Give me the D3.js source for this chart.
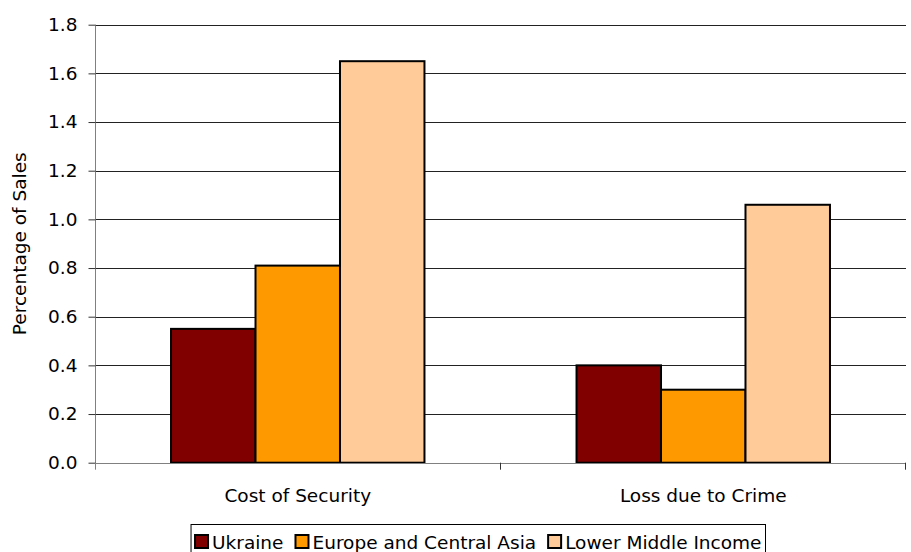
<!DOCTYPE html>
<html><head><meta charset="utf-8">
<script src="https://cdn.jsdelivr.net/npm/d3@7"></script>
<style>body{margin:0;background:#fff}svg{display:block}text{font-family:"DejaVu Sans",sans-serif;fill:#000}</style>
</head><body><svg id="c" width="911" height="552"></svg>
<script>
const categories = ["Cost of Security", "Loss due to Crime"];
const seriesNames = ["Ukraine", "Europe and Central Asia", "Lower Middle Income"];
const ukraine = [0.55, 0.40];
const europeCentralAsia = [0.81, 0.30];
const lowerMiddleIncome = [1.65, 1.06];
const yTicks = [0, 0.2, 0.4, 0.6, 0.8, 1.0, 1.2, 1.4, 1.6, 1.8];
const colors = ["#800000", "#FF9900", "#FFCC99"];

const series = [ukraine, europeCentralAsia, lowerMiddleIncome];
const FS = 18.5;
const svg = d3.select("#c");
const m = {l: 95, r: 5, t: 24.7, b: 89.3};
const W = 911, H = 552;
const x = d3.scaleBand().domain(categories).range([m.l, W - m.r]).paddingInner(0).paddingOuter(0);
const xi = d3.scaleBand().domain(seriesNames).range([0, x.bandwidth()]).paddingInner(0).paddingOuter(0.9);
const y = d3.scaleLinear().domain([0, 1.8]).range([H - m.b, m.t]);

// gridlines
svg.append("g").selectAll("line").data(yTicks.slice(1)).join("line")
  .attr("x1", m.l).attr("x2", W - m.r)
  .attr("y1", d => Math.round(y(d)) + 0.5).attr("y2", d => Math.round(y(d)) + 0.5)
  .attr("stroke", "#222").attr("stroke-width", 1);

// bars
const g = svg.append("g");
categories.forEach((c, ci) => {
  seriesNames.forEach((s, si) => {
    const v = series[si][ci];
    g.append("rect")
      .attr("x", x(c) + xi(s)).attr("width", xi.bandwidth())
      .attr("y", y(v)).attr("height", y(0) - y(v))
      .attr("fill", colors[si]).attr("stroke", "#000").attr("stroke-width", 2);
  });
});

// y axis
const ya = svg.append("g").attr("transform", `translate(${m.l + 0.5},0)`)
  .call(d3.axisLeft(y).tickValues(yTicks).tickFormat(d3.format(".1f")).tickSize(7).tickPadding(11));
ya.select(".domain").attr("stroke", "#808080").attr("d", `M0,${y(1.8)}V${y(0) + 7}`);
ya.selectAll(".tick line").attr("stroke", "#333");
ya.selectAll("text").attr("font-size", FS).attr("font-family", "DejaVu Sans").attr("fill", "#000");

// x axis
const xa = svg.append("g").attr("transform", `translate(0,${Math.round(y(0)) + 0.5})`)
  .call(d3.axisBottom(x).tickSize(0).tickPadding(25));
xa.select(".domain").attr("stroke", "#808080").attr("d", `M${m.l},0H${W - m.r}`);
xa.selectAll("text").attr("font-size", FS).attr("font-family", "DejaVu Sans").attr("fill", "#000");
// boundary ticks
svg.append("g").selectAll("line").data(categories).join("line")
  .attr("x1", d => Math.round(x(d) + x.bandwidth()) - 0.5).attr("x2", d => Math.round(x(d) + x.bandwidth()) - 0.5)
  .attr("y1", y(0)).attr("y2", y(0) + 7).attr("stroke", "#333");

// y label
svg.append("text").attr("transform", `translate(26,${(y(0) + y(1.8)) / 2}) rotate(-90)`)
  .attr("text-anchor", "middle").attr("font-size", FS).text("Percentage of Sales");

// legend (right edge anchored, items laid out by measured text widths)
const lg = svg.append("g");
const frame = lg.append("rect").attr("fill", "#fff").attr("stroke", "#000");
const items = lg.append("g");
let cx = 0;
seriesNames.forEach((s, i) => {
  items.append("rect").attr("x", cx).attr("y", 535).attr("width", 13).attr("height", 13)
    .attr("fill", colors[i]).attr("stroke", "#000").attr("stroke-width", 2);
  const t = items.append("text").attr("x", cx + 17).attr("y", 549).attr("font-size", FS).text(s);
  cx += 17 + t.node().getComputedTextLength() + 12;
});
const innerW = cx - 12;
const right = 765.5;
const left = right - innerW - 8;
items.attr("transform", `translate(${left + 4},0)`);
frame.attr("x", left).attr("y", 524.5).attr("width", right - left).attr("height", 40);
</script></body></html>
